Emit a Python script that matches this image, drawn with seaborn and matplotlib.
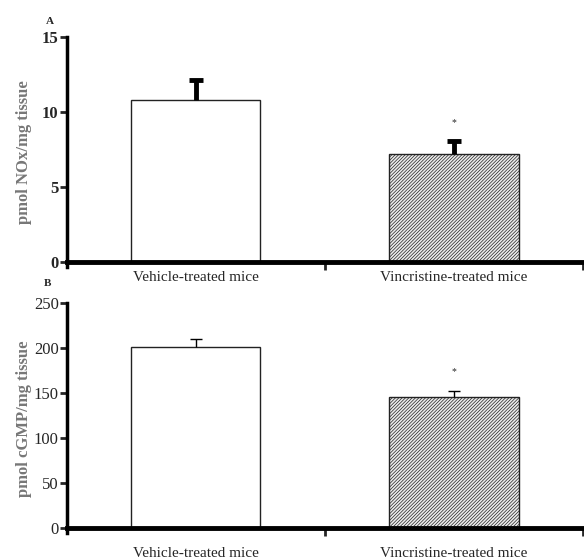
import matplotlib
matplotlib.use("Agg")
import pandas as pd
import seaborn as sns
import matplotlib.pyplot as plt

groups = ["Vehicle-treated mice", "Vincristine-treated mice"]
nox_mean = [10.8, 7.2]
nox_sem = [1.3, 0.85]
cgmp_mean = [201.7, 145.6]
cgmp_sem = [8.3, 7.2]
nox_ticks = [0, 5, 10, 15]
cgmp_ticks = [0, 50, 100, 150, 200, 250]

sns.set_theme(style="white")
plt.rcParams["font.family"] = ["Liberation Serif", "DejaVu Serif"]
plt.rcParams["hatch.linewidth"] = 0.5
plt.rcParams["hatch.color"] = "#666666"

fig = plt.figure(figsize=(5.84, 5.60), dpi=100)
ax_a = fig.add_axes([0.1147, 0.523, 0.8836, 0.411])
ax_b = fig.add_axes([0.1147, 0.0476, 0.8836, 0.4108])


def draw_panel(ax, means, sems, ylim, ticks, ylabel, star_y, bold, err_lw,
               cap_w, xpad):
    df = pd.DataFrame({"group": groups, "value": means})
    sns.barplot(data=df, x="group", y="value", ax=ax, width=0.5,
                color="white", edgecolor="#222222", linewidth=1.0,
                errorbar=None)
    ax.patches[1].set_facecolor("#ececec")
    ax.patches[1].set_hatch("//////////")
    tops = [m + s for m, s in zip(means, sems)]
    ax.vlines([0, 1], means, tops, color="black", lw=err_lw, zorder=3)
    ax.plot([0, 1], tops, ls="none", marker="_", ms=cap_w,
            mew=err_lw, color="black", zorder=3)
    ax.text(1, star_y, "*", ha="center", va="center", fontsize=7)

    ax.set_xlim(-0.5, 1.5)
    ax.set_ylim(ylim[0] - (ylim[1] - ylim[0]) * 0.025, ylim[1])
    ax.set_yticks(ticks)
    ax.set_yticklabels([str(t) for t in ticks], fontsize=12,
                       fontweight="bold" if bold else "normal")
    ax.set_xticks([0, 1])
    ax.set_xticklabels(groups, fontsize=12)
    ax.set_xticks([0.5, 1.5], minor=True)
    ax.tick_params(axis="x", which="major", length=0, pad=xpad)
    ax.tick_params(axis="x", which="minor", direction="out", length=6,
                   width=2, bottom=True)
    ax.tick_params(axis="y", direction="out", length=5, width=2, left=True,
                   pad=1)
    ax.set_xlabel("")
    ax.set_ylabel(ylabel, fontsize=12, fontweight="bold", color="#777777")
    ax.yaxis.set_label_coords(-0.068, 0.5)
    for side in ["top", "right"]:
        ax.spines[side].set_visible(False)
    ax.spines["bottom"].set_position(("data", 0))
    ax.spines["bottom"].set_linewidth(3.5)
    ax.spines["left"].set_linewidth(2.5)
    ax.spines["bottom"].set_color("black")
    ax.spines["left"].set_color("black")


draw_panel(ax_a, nox_mean, nox_sem, (0, 15), nox_ticks,
           "pmol NOx/mg tissue", 9.3, True, 3.5, 10, 7)
draw_panel(ax_b, cgmp_mean, cgmp_sem, (0, 250), cgmp_ticks,
           "pmol cGMP/mg tissue", 174, False, 1.0, 8, 14)

fig.text(50 / 584, 1 - 21 / 560, "A", fontsize=8, fontweight="bold",
         ha="center", va="center")
fig.text(48 / 584, 1 - 283 / 560, "B", fontsize=8, fontweight="bold",
         ha="center", va="center")

fig.savefig("out.png", dpi=100)
plt.close(fig)
